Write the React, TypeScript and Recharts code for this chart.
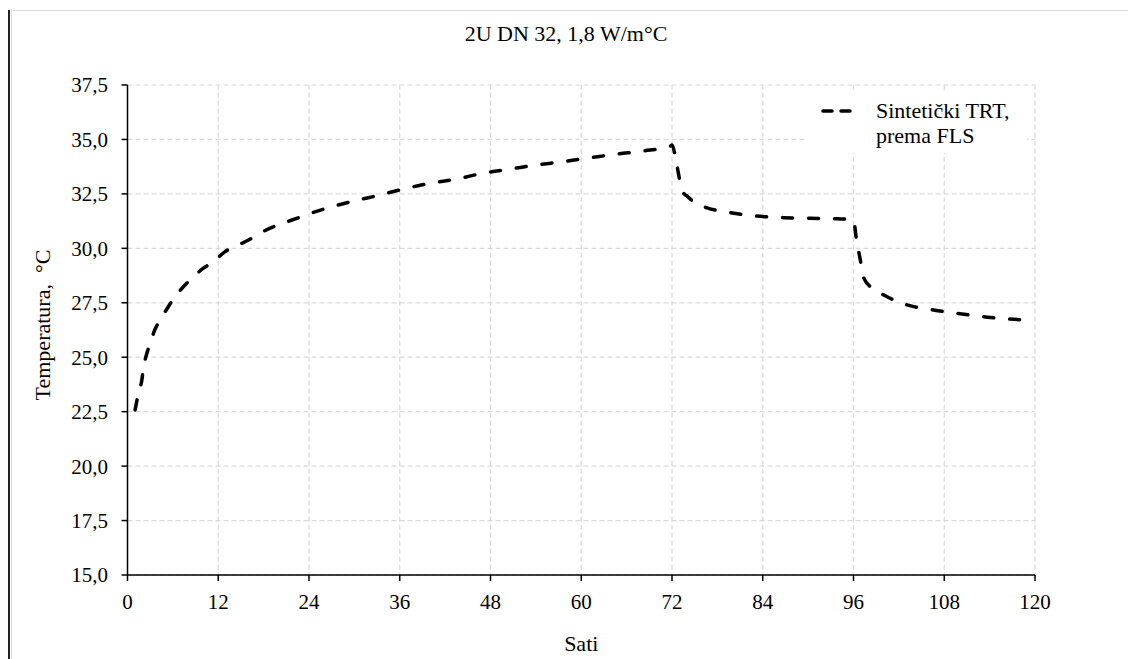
import React from 'react';
import { LineChart, Line, XAxis, YAxis, CartesianGrid, Legend } from 'recharts';

const hours = [
  1, 1.4, 1.9, 2.1, 2.5, 3, 3.6, 4.3, 5.4, 6.1, 7.4, 8.5, 10, 11.4, 12.9, 14.2, 16, 17.5,
  22.8, 26.3, 29.9, 33.4, 36, 40, 43.5, 47, 50.6, 54.1, 57.6, 61.2, 64.7, 68.2, 71.8, 72,
  72.6, 73.1, 73.5, 74, 75, 76.2, 79.7, 83.2, 86.7, 90.3, 93.8, 96, 96.4, 96.9, 97.3, 98.2,
  100.2, 103.1, 106.6, 110.2, 113.7, 117.2, 120,
];
const temps = [
  22.58, 23.27, 23.96, 24.5, 25.1, 25.64, 26.25, 26.7, 27.32, 27.7, 28.24, 28.62, 29.08, 29.39, 29.85, 30.08, 30.38, 30.69,
  31.43, 31.84, 32.17, 32.45, 32.68, 32.99, 33.18, 33.45, 33.64, 33.83, 33.98, 34.16, 34.33, 34.47, 34.7, 34.75,
  33.9, 33.0, 32.55, 32.4, 32.1, 31.91, 31.64, 31.48, 31.41, 31.38, 31.36, 31.3, 30.38, 29.47, 28.7, 28.24,
  27.82, 27.4, 27.17, 26.99, 26.84, 26.74, 26.68,
];
const xTicks = [0, 12, 24, 36, 48, 60, 72, 84, 96, 108, 120];
const yTicks = [15, 17.5, 20, 22.5, 25, 27.5, 30, 32.5, 35, 37.5];
const seriesName = ['Sintetički TRT,', 'prema FLS'];

const data = hours.map((h, i) => ({ h, t: temps[i] }));

const FONT = "'Liberation Serif', 'Times New Roman', serif";
const tickStyle = { fill: '#000', fontSize: 21, style: { fontFamily: FONT } };
const axisStroke = { stroke: '#000', strokeWidth: 1.5 };
const textStyle = { fontFamily: FONT };

const LegendBox = () => (
  <div style={{ width: 220, height: 63, background: '#fff' }}>
    <svg width={220} height={63}>
      <line x1={16} y1={21} x2={43} y2={21} stroke="#000" strokeWidth={3.5}
        strokeDasharray="9 9" strokeLinecap="round" />
      <text x={69} y={28} fontSize={22} style={textStyle} fill="#000">{seriesName[0]}</text>
      <text x={69} y={53} fontSize={22} style={textStyle} fill="#000">{seriesName[1]}</text>
    </svg>
  </div>
);

const App: React.FC = () => {
  return (
    <div style={{ position: 'relative', width: 1128, height: 651, fontFamily: FONT }}>
      <div style={{ position: 'absolute', left: 0, top: 2, width: 1.5, height: 649, background: '#222' }} />
      <div style={{
        position: 'absolute', left: 3, top: 2, width: 1125, height: 649,
        borderTop: '1px solid #d9d9d9', borderLeft: '1px solid #d9d9d9', boxSizing: 'border-box'
      }} />
      <div style={{
        position: 'absolute', left: 0, top: 13, width: 1116, textAlign: 'center',
        fontFamily: FONT, fontSize: 22, color: '#000'
      }}>
        2U DN 32, 1,8 W/m°C
      </div>
      <div style={{ position: 'absolute', left: 0, top: 0 }}>
        <LineChart width={1128} height={651} data={data} style={{ fontFamily: FONT }}
          margin={{ top: 77, right: 101, bottom: 54, left: 59.5 }}>
          <CartesianGrid stroke="#d9d9d9" strokeDasharray="5 3" strokeWidth={1.2} />
          <XAxis dataKey="h" type="number" domain={[0, 120]} ticks={xTicks} interval={0}
            height={30} tickSize={6} tickMargin={13} tick={tickStyle}
            axisLine={axisStroke} tickLine={axisStroke}
            label={{ value: 'Sati', position: 'bottom', offset: 30, fill: '#000', fontSize: 22, style: textStyle }} />
          <YAxis type="number" domain={[15, 37.5]} ticks={yTicks} interval={0} width={60}
            tickSize={6} tickMargin={13.5} tick={tickStyle}
            axisLine={axisStroke} tickLine={axisStroke}
            tickFormatter={(v: number) => v.toFixed(1).replace('.', ',')}
            label={{
              content: () => (
                <text x={34} y={317} transform="rotate(-90 34 317)" textAnchor="middle"
                  dominantBaseline="central" fontSize={22} style={textStyle} fill="#000">
                  {'Temperatura,\u00A0 °C'}
                </text>
              )
            }} />
          <Legend layout="vertical" align="center" verticalAlign="middle" content={<LegendBox />}
            wrapperStyle={{ position: 'absolute', left: 799, top: 82, width: 220, height: 63 }} />
          <Line type="monotone" dataKey="t" stroke="#000" strokeWidth={3.5}
            strokeDasharray="10 16" strokeLinecap="round" dot={false} activeDot={false}
            isAnimationActive={false} />
        </LineChart>
      </div>
    </div>
  );
};

export default App;
